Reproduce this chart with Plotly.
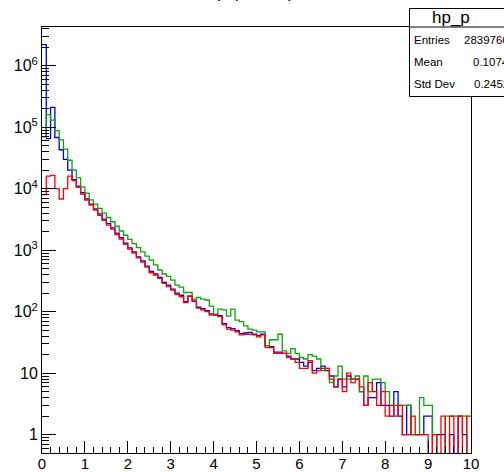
import numpy as np
import plotly.graph_objects as go

# 100 bins of width 0.1 on [0, 10]
x_lo, x_hi, n_bins = 0.0, 10.0, 100

blue_counts = [
    2200000, 65000, 210000, 68000, 43000, 30000, 20000, 14000, 11000, 8600,
    6800, 5600, 4700, 3900, 3200, 2700, 2300, 1900, 1600, 1300,
    1090, 940, 780, 670, 550, 450, 410, 360, 300, 270,
    232, 200, 185, 145, 178, 150, 118, 112, 104, 92,
    90, 86, 64, 55, 53, 49, 44, 45, 46, 43,
    41, 43, 28, 27, 22, 22, 21, 19, 17, 17,
    15, 13, 15, 11, 12, 13, 11, 9, 6, 8,
    6, 9, 8, 8, 5, 3, 4, 4, 7, 3,
    3, 2, 5, 2, 1, 3, 1, 1, 1, 2,
    2, 0, 1, 1, 0, 1, 0, 2, 1, 0,
]

green_counts = [
    70000, 160000, 130000, 88000, 62000, 44000, 29000, 20000, 15000, 10700,
    8500, 6600, 5600, 4800, 4000, 3400, 2900, 2450, 2050, 1750,
    1500, 1280, 1100, 940, 800, 690, 575, 476, 410, 375,
    327, 270, 250, 205, 205, 160, 170, 160, 155, 123,
    88, 110, 107, 85, 110, 73, 69, 59, 52, 50,
    47, 47, 28, 35, 35, 43, 23, 21, 25, 21,
    18, 17, 20, 19, 17, 11, 12, 7, 9, 13,
    8, 8, 8, 9, 5, 9, 5, 8, 8, 7,
    5, 3, 3, 3, 3, 3, 1, 1, 4, 3,
    3, 1, 0, 0, 2, 2, 2, 2, 2, 0,
]

red_counts = [
    8000, 16000, 16500, 10000, 6800, 10000, 16000, 13500, 10500, 8200,
    6500, 5400, 4500, 3700, 3050, 2550, 2200, 1800, 1520, 1250,
    1040, 900, 750, 640, 530, 430, 395, 347, 288, 255,
    225, 192, 175, 140, 180, 146, 114, 107, 100, 88,
    88, 83, 61, 52, 50, 47, 42, 43, 43, 42,
    39, 42, 26, 26, 21, 21, 21, 18, 17, 15,
    12, 12, 16, 10, 11, 12, 12, 8, 6, 8,
    5, 10, 7, 8, 6, 3, 7, 5, 3, 5,
    2, 3, 2, 3, 1, 1, 2, 1, 1, 1,
    0, 1, 0, 2, 0, 2, 0, 2, 0, 2,
]

stats_title = "hp_p"
stats_labels = ["Entries", "Mean", "Std Dev"]
stats_values = ["2839766", "0.1074", "0.2452"]

y_tick_vals = [1, 10, 100, 1000, 1e4, 1e5, 1e6]
y_tick_text = ["1", "10", "10<sup>2</sup>", "10<sup>3</sup>", "10<sup>4</sup>",
               "10<sup>5</sup>", "10<sup>6</sup>"]

W, H = 504, 472
ML, MR, MT, MB = 42, 33, 27, 19
PW, PH = W - ML - MR, H - MT - MB


def px(x):
    return (x - ML) / PW


def py(y):
    return (H - MB - y) / PH


edges = np.linspace(x_lo, x_hi, n_bins + 1)


def step_trace(counts, color):
    c = np.asarray(counts, dtype=float)
    # empty bins fall below the log axis floor so the outline drops to the frame
    c = np.where(c > 0, c, 0.05)
    yv = np.append(c, c[-1])
    return go.Scatter(x=edges, y=yv, mode="lines", line_shape="hv",
                      line=dict(color=color, width=1.3), hoverinfo="skip",
                      showlegend=False)


fig = go.Figure()
fig.add_trace(step_trace(blue_counts, "#0000e0"))
fig.add_trace(step_trace(green_counts, "#10a010"))
fig.add_trace(step_trace(red_counts, "#ff0000"))

minor_y = [m * 10 ** d for d in range(-1, 7) for m in range(2, 10)]
minor_y = [v for v in minor_y if 0.5 <= v <= 4.3e6]

font = "Liberation Sans, Arial, sans-serif"

fig.update_layout(
    width=W, height=H,
    margin=dict(l=ML, r=MR, t=MT, b=MB, autoexpand=False),
    paper_bgcolor="white", plot_bgcolor="white",
    font=dict(family=font, color="black"),
    xaxis=dict(range=[x_lo, x_hi], tickmode="linear", tick0=0, dtick=1,
               automargin=False, ticklabelstandoff=-3,
               ticks="inside", ticklen=12, tickwidth=1, tickcolor="black",
               minor=dict(dtick=0.2, ticks="inside", ticklen=6,
                          tickcolor="black", showgrid=False),
               showgrid=False, zeroline=False, showline=True,
               linecolor="black", linewidth=1, mirror=True,
               tickfont=dict(size=15, family=font)),
    yaxis=dict(type="log", range=[-0.2976, 6.629], automargin=False,
               tickmode="array", tickvals=y_tick_vals, ticktext=y_tick_text,
               ticks="inside", ticklen=14, tickwidth=1, tickcolor="black",
               minor=dict(tickmode="array", tickvals=minor_y, ticks="inside",
                          ticklen=7, tickcolor="black", showgrid=False),
               showgrid=False, zeroline=False, showline=True,
               linecolor="black", linewidth=1, mirror=True,
               tickfont=dict(size=16, family=font)),
)

# statistics box
fig.add_shape(type="rect", xref="paper", yref="paper",
              x0=px(409.5), x1=px(512), y0=py(96.5), y1=py(8.5),
              line=dict(color="black", width=1), fillcolor="white", layer="above")
fig.add_shape(type="line", xref="paper", yref="paper",
              x0=px(409.5), x1=px(512), y0=py(27), y1=py(27),
              line=dict(color="black", width=1), layer="above")
fig.add_annotation(xref="paper", yref="paper", x=px(451), y=py(17.5),
                   text=stats_title, showarrow=False, xanchor="center",
                   yanchor="middle", font=dict(size=17, family=font))
for i, (lab, val) in enumerate(zip(stats_labels, stats_values)):
    yy = py(40 + 22 * i)
    fig.add_annotation(xref="paper", yref="paper", x=px(412), y=yy, text=lab,
                       showarrow=False, xanchor="left", yanchor="middle",
                       font=dict(size=11.5, family=font))
    fig.add_annotation(xref="paper", yref="paper", x=px(511), y=yy, text=val,
                       showarrow=False, xanchor="right", yanchor="middle",
                       font=dict(size=11.5, family=font))

# histogram title, sitting at the very top edge of the canvas
fig.add_annotation(xref="paper", yref="paper", x=px(255), y=py(2),
                   text="p (GeV/c)", showarrow=False, xanchor="center",
                   yanchor="bottom", borderpad=0, font=dict(size=18, family=font))

fig.write_html("out.html")
